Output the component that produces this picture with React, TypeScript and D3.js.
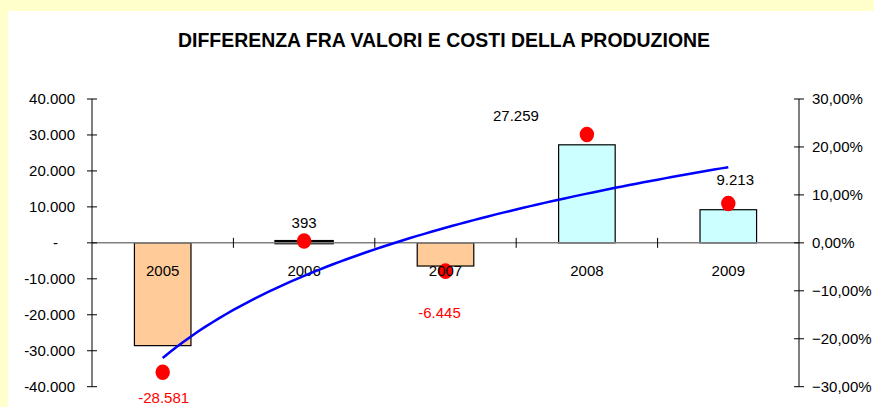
import React from 'react';
import * as d3 from 'd3';

const years = ['2005', '2006', '2007', '2008', '2009'];
const differences = [-28581, 393, -6445, 27259, 9213];
const percents = [-27.0, 0.4, -5.9, 22.6, 8.2];
const leftTicks = [-40000, -30000, -20000, -10000, 0, 10000, 20000, 30000, 40000];
const rightTicks = [-30, -20, -10, 0, 10, 20, 30];

// where each value label sits relative to its red dot
const labelOffsets = [[1, 31], [0, -13], [-6, 47], [-71, -13], [7, -19]];

const W = 874;
const H = 407;
const font = '"Liberation Sans", Arial, sans-serif';

const fmtThousands = (v: number) => {
  if (v === 0) return '-';
  const s = d3.format(',')(Math.abs(v)).replace(/,/g, '.');
  return v < 0 ? '-' + s : s;
};
const fmtPct = (v: number) => d3.format('.2f')(v).replace('.', ',') + '%';

const App = () => {
  const x = d3.scaleBand().domain(years).range([92, 799]).paddingInner(0.6).paddingOuter(0.3);
  const step = x.step();
  const y = d3.scaleLinear().domain([-40000, 40000]).range([386.7, 99]);
  const yR = d3.scaleLinear().domain([-30, 30]).range([386.7, 99]);
  const cx = (d: string) => (x(d) as number) + x.bandwidth() / 2;

  // logarithmic trendline fitted on the percent series
  const lx = percents.map((_, i) => Math.log(i + 1));
  const mx = d3.mean(lx) as number;
  const my = d3.mean(percents) as number;
  const b = d3.sum(lx, (v, i) => (v - mx) * (percents[i] - my)) / d3.sum(lx, (v) => (v - mx) ** 2);
  const a = my - b * mx;
  const xs = d3.range(1, 5.001, 0.05);
  const trendX = d3.scaleLinear().domain([1, 5]).range([cx(years[0]), cx(years[4])]);
  const line = d3.line<number>().x((t) => trendX(t)).y((t) => yR(a + b * Math.log(t)));

  const y0 = y(0);

  return (
    <div style={{ position: 'absolute', left: 0, top: 0 }}>
      <svg width={W} height={H} style={{ display: 'block' }}>
        <rect x={0} y={0} width={W} height={H} fill="#FFFFCC" />
        <rect x={8} y={11} width={W - 8} height={H - 11} fill="#FFFFFF" />

        <text x={444} y={47} textAnchor="middle" fontFamily={font} fontWeight="bold" fontSize={20}
          textLength={532} lengthAdjust="spacingAndGlyphs" fill="#000">
          DIFFERENZA FRA VALORI E COSTI DELLA PRODUZIONE
        </text>

        {/* bars */}
        {differences.map((v, i) => (
          <rect key={'bar' + i} x={x(years[i])} y={Math.min(y(v), y0)} width={x.bandwidth()}
            height={Math.max(Math.abs(y(v) - y0), 0.5)}
            fill={v < 0 ? '#FFCC99' : '#CCFFFF'} stroke="#000" strokeWidth={v > 0 && v < 1000 ? 3 : 1.2} />
        ))}

        {/* zero line and category ticks */}
        <line x1={92} x2={799} y1={y0} y2={y0} stroke="#808080" strokeWidth={1.5} />
        {d3.range(1, years.length).map((k) => (
          <line key={'ct' + k} x1={92 + k * step} x2={92 + k * step} y1={y0 - 5} y2={y0 + 5} stroke="#000" strokeWidth={1} />
        ))}

        {/* left axis */}
        <line x1={92} x2={92} y1={y(40000)} y2={y(-40000)} stroke="#000" strokeWidth={1} />
        {leftTicks.map((t) => (
          <g key={'lt' + t}>
            <line x1={87} x2={97} y1={y(t)} y2={y(t)} stroke="#000" strokeWidth={1} />
            <text x={t === 0 ? 58 : 75} y={y(t) + 5} textAnchor="end" fontFamily={font} fontSize={15} fill="#000">
              {fmtThousands(t)}
            </text>
          </g>
        ))}

        {/* right axis */}
        <line x1={799} x2={799} y1={yR(30)} y2={yR(-30)} stroke="#000" strokeWidth={1} />
        {rightTicks.map((t) => (
          <g key={'rt' + t}>
            <line x1={794} x2={804} y1={yR(t)} y2={yR(t)} stroke="#000" strokeWidth={1} />
            <text x={812} y={yR(t) + 5} textAnchor="start" fontFamily={font} fontSize={15} fill="#000">
              {fmtPct(t)}
            </text>
          </g>
        ))}

        {/* red markers */}
        {percents.map((p, i) => (
          <ellipse key={'dot' + i} cx={cx(years[i])} cy={yR(p)} rx={7.2} ry={7.8} fill="#FF0000" />
        ))}

        {/* category labels */}
        {years.map((yr) => (
          <text key={'cat' + yr} x={cx(yr)} y={y0 + 33} textAnchor="middle" fontFamily={font} fontSize={15} fill="#000">
            {yr}
          </text>
        ))}

        {/* trendline */}
        <path d={line(xs) as string} fill="none" stroke="#0000FF" strokeWidth={2.5} />

        {/* value labels */}
        {differences.map((v, i) => (
          <text key={'vl' + i} x={cx(years[i]) + labelOffsets[i][0]} y={yR(percents[i]) + labelOffsets[i][1]}
            textAnchor="middle" fontFamily={font} fontSize={15} fill={v < 0 ? '#FF0000' : '#000'}>
            {fmtThousands(v)}
          </text>
        ))}
      </svg>
    </div>
  );
};

export default App;
